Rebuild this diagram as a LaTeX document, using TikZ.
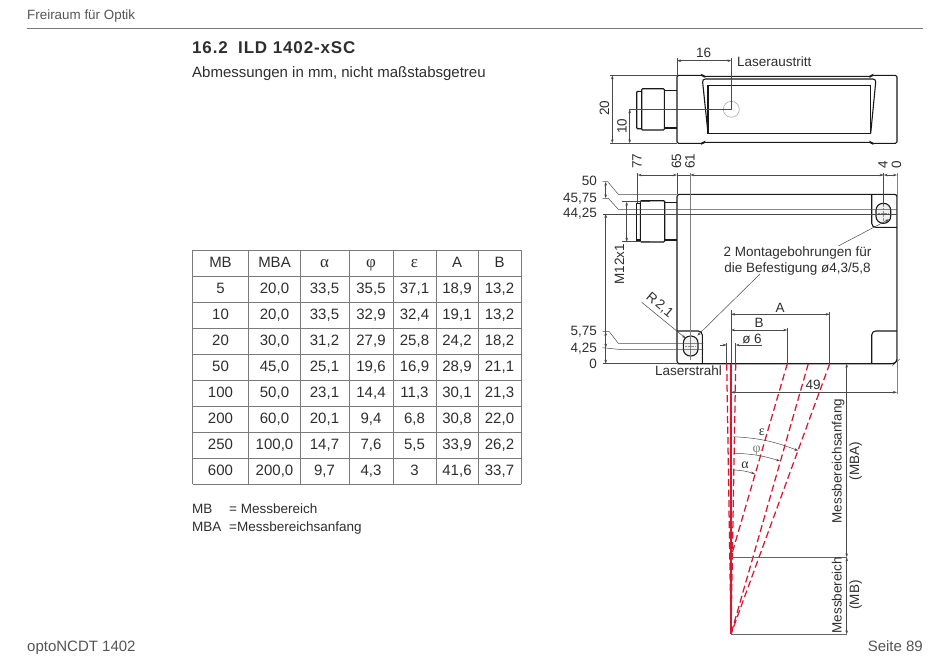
\documentclass[tikz,border=0pt]{standalone}
\usepackage{fontspec}
\setmainfont{Liberation Sans}
\newfontfamily\greekfont{Liberation Serif}
\newfontfamily\headfont[LetterSpace=5]{Liberation Sans}
\usetikzlibrary{arrows.meta}
\definecolor{xtext}{HTML}{2E2E2E}
\definecolor{xline}{HTML}{4A4A4A}
\definecolor{xgrid}{HTML}{7A7A7A}
\definecolor{xred}{HTML}{D8162F}
\newcommand{\greekhead}[1]{\fontsize{17}{17}\selectfont\greekfont #1}
\tikzset{
  label/.style = {inner sep=0pt, text=xtext, text height=11pt, text depth=2pt, font=\fontsize{13.5}{15}\selectfont},
  cell/.style = {label, font=\fontsize{15}{17}\selectfont},
  pagetext/.style = {label, text=xgrid!70!black, font=\fontsize{15}{17}\selectfont},
  heading/.style = {label, anchor=west, font=\fontsize{17}{19}\selectfont\headfont\bfseries},
  outline/.style = {draw=black!90, line width=1.1pt},
  thinline/.style = {draw=xline, line width=0.5pt},
  dim/.style = {thinline, {Stealth[length=4pt,width=2.6pt]}-{Stealth[length=4pt,width=2.6pt]}},
  toarrow/.style = {thinline, -{Stealth[length=4pt,width=2.6pt]}},
  beam/.style = {draw=xred, line width=1.25pt, dash pattern=on 7pt off 3.5pt},
}
\newcommand{\tablerow}[8]{
  \node[cell] (mb#1)  at (220.5,#1) {#2};
  \node[cell] (mba#1) at (274.5,#1) {#3};
  \node[cell] (al#1)  at (324.5,#1) {#4};
  \node[cell] (ph#1)  at (371,#1)   {#5};
  \node[cell] (ep#1)  at (414.5,#1) {#6};
  \node[cell] (a#1)   at (457,#1)   {#7};
  \node[cell] (b#1)   at (499.5,#1) {#8};
}
\begin{document}
\begin{tikzpicture}[x=1pt, y=-1pt]
  \useasboundingbox (0,0) rectangle (950,657);
  % page frame
  \draw[xgrid, line width=0.6pt] (27,28) -- (923,28);
  \node[pagetext, anchor=west, font=\fontsize{13.4}{15}\selectfont] (header) at (27,15) {Freiraum für Optik};
  \node[pagetext, anchor=west] (footer) at (27,647) {optoNCDT 1402};
  \node[pagetext, anchor=east] (page) at (923,647) {Seite 89};
  \node[heading] (secnum) at (192,49) {16.2};
  \node[heading] (sectitle) at (238,49) {ILD 1402-xSC};
  \node[cell, anchor=west] (subtitle) at (192,73) {Abmessungen in mm, nicht maßstabsgetreu};
  % table
  \foreach \ty in {250,276,...,484} \draw[xgrid, line width=0.8pt] (192.5,\ty) -- (521,\ty);
  \foreach \tx in {192.5,248.5,300,349,393,436,478,521} \draw[xgrid, line width=0.8pt] (\tx,250) -- (\tx,484);
  \tablerow{263}{MB}{MBA}{\greekhead{α}}{\greekhead{φ}}{\greekhead{ε}}{A}{B}
  \tablerow{289}{5}{20,0}{33,5}{35,5}{37,1}{18,9}{13,2}
  \tablerow{315}{10}{20,0}{33,5}{32,9}{32,4}{19,1}{13,2}
  \tablerow{341}{20}{30,0}{31,2}{27,9}{25,8}{24,2}{18,2}
  \tablerow{367}{50}{45,0}{25,1}{19,6}{16,9}{28,9}{21,1}
  \tablerow{393}{100}{50,0}{23,1}{14,4}{11,3}{30,1}{21,3}
  \tablerow{419}{200}{60,0}{20,1}{9,4}{6,8}{30,8}{22,0}
  \tablerow{445}{250}{100,0}{14,7}{7,6}{5,5}{33,9}{26,2}
  \tablerow{471}{600}{200,0}{9,7}{4,3}{3}{41,6}{33,7}
  \node[label, anchor=west] (mbkey) at (192,509) {MB};
  \node[label, anchor=west] (mbval) at (229,509) {= Messbereich};
  \node[label, anchor=west] (mbakey) at (192,527) {MBA};
  \node[label, anchor=west] (mbaval) at (229,527) {=Messbereichsanfang};
  % top view
  \draw[outline, rounded corners=1.5pt] (677,75.3) -- (702.7,75.3) -- (703.5,76.3) -- (871,76.3) -- (871.7,75.3) -- (897,75.3) -- (897,143.3) -- (871.7,143.3) -- (871,142.3) -- (703.5,142.3) -- (702.7,143.3) -- (677,143.3) -- cycle;
  \draw[outline, rounded corners=3pt] (708,133.3) -- (702.3,79) -- (876,79) -- (870.7,133.3);
  \draw[outline] (708,85.7) rectangle (870.3,133.3);
  \draw[outline] (676.7,90.3) -- (664.3,90.3) -- (664.3,128) -- (676.7,128);
  \draw[outline, rounded corners=1pt] (664.3,88.7) -- (641.7,88.7) -- (641.7,130) -- (664.3,130) -- cycle;
  \draw[outline, rounded corners=1pt] (641.7,91.3) -- (636.7,91.3) -- (636.7,128.7) -- (641.7,128.7);
  \draw[black!30, line width=0.7pt] (731.3,109.3) circle (8);
  \draw[thinline] (731.3,58) -- (731.3,109.3) -- (629,109.3);
  \draw[thinline] (677,58) -- (677,75.3) -- (610,75.3);
  \draw[thinline] (677,143.3) -- (610,143.3);
  \draw[dim] (677,60.7) -- (731.3,60.7);
  \draw[dim] (612.3,75.3) -- (612.3,143.3);
  \draw[dim] (629.7,109.3) -- (629.7,143.3);
  \node[label] (w16) at (703.5,52.5) {16};
  \node[label, anchor=west] (laseraus) at (737,62) {Laseraustritt};
  \node[label, rotate=90] (h20) at (604.5,108) {20};
  \node[label, rotate=90] (h10) at (622,126) {10};
  % side view
  \draw[outline, rounded corners=2.5pt] (677,363.7) -- (677,194.3) -- (897,194.3) -- (897,361) -- (894,363.7) -- (680,363.7) -- cycle;
  \draw[outline, rounded corners=4pt] (871.7,194.3) -- (871.7,227.3) -- (897,227.3);
  \draw[outline, rounded corners=4pt] (702.3,363.7) -- (702.3,331) -- (677,331);
  \draw[outline, rounded corners=4pt] (871.7,363.7) -- (871.7,331) -- (897,331);
  \draw[outline] (676.7,202.3) -- (664.7,202.3) -- (664.7,240) -- (676.7,240);
  \draw[outline, rounded corners=1pt] (664.7,200.7) -- (640.3,200.7) -- (640.3,242) -- (664.7,242) -- cycle;
  \draw[outline] (640.3,203.3) rectangle (636.7,240);
  % mounting holes
  \draw[outline, rounded corners=7pt, fill=black!6] (876,203.3) rectangle (890.7,223.3);
  \draw[outline, rounded corners=7pt, fill=black!6] (683.3,336) rectangle (698,356);
  \draw[black!45, line width=0.4pt, densely dotted] (883.5,205) -- (883.5,222) (878,213.3) -- (889,213.3);
  \draw[black!45, line width=0.4pt, densely dotted] (690.6,338) -- (690.6,355) (685,346) -- (696,346);
  % extension lines
  \draw[thinline] (637.7,173) -- (637.7,203);
  \draw[thinline] (677,173) -- (677,194.3);
  \draw[thinline, black!50] (690.3,173) -- (690.3,360);
  \draw[thinline] (883.7,173) -- (883.7,205);
  \draw[thinline, black!50] (897,173) -- (897,394);
  \draw[dim] (637.7,175) -- (677,175);
  \draw[thinline] (677,175) -- (690.3,175);
  \draw[dim] (690.3,175) -- (883.7,175);
  \draw[dim] (883.7,175) -- (897,175);
  \foreach \txt/\tx/\tname in {77/637/a,65/676.5/b,61/690/c,4/883/d,0/896.5/e}
    \node[label, rotate=90, anchor=west] (top\tname) at (\tx,169) {\txt};
  % height scale on the left
  \draw[thinline] (602.7,181.7) -- (607.7,181.7) -- (618.3,194.3) -- (677,194.3);
  \draw[thinline] (602.7,198.3) -- (608.3,198.3) -- (618.3,209.3) -- (897,209.3);
  \draw[thinline] (602.7,214) -- (897,214);
  \draw[thinline] (602.7,331.7) -- (609.3,331.7) -- (618.3,343.3) -- (703.3,343.3);
  \draw[thinline] (602.7,347.7) -- (618.3,349.3) -- (703.3,349.3);
  \draw[thinline] (602.7,363.7) -- (677,363.7);
  \draw[dim] (605.7,181.7) -- (605.7,198.3);
  \draw[dim] (605.7,214) -- (605.7,363.7);
  \draw[dim] (605.7,331.7) -- (605.7,347.7);
  \foreach \txt/\ty/\tname in {50/181/a,{45,75}/198/b,{44,25}/213/c,{5,75}/331/d,{4,25}/348/e,0/364/f}
    \node[label, anchor=east] (left\tname) at (597,\ty) {\txt};
  \draw[thinline] (622,201.7) -- (650,201.7);
  \draw[thinline] (622,241.7) -- (650,241.7);
  \draw[dim] (626.7,201.7) -- (626.7,241.7);
  \node[label, rotate=90] (thread) at (619.5,264) {M12x1};
  % leaders
  \node[label] (mount1) at (797.5,251.7) {2 Montagebohrungen für};
  \node[label] (mount2) at (797.5,268) {die Befestigung ø4,3/5,8};
  \draw[toarrow] (838.3,246) -- (889,219.3);
  \draw[toarrow] (760,274) -- (697.3,335.7);
  \draw[toarrow] (641.7,302.3) -- (685.7,338.3);
  \node[label, rotate=-40] (radius) at (660,304.5) {R\,2,1};
  % widths
  \draw[thinline] (731,310) -- (731,363.7);
  \draw[thinline] (787.3,328) -- (787.3,363.7);
  \draw[thinline] (829.7,312) -- (829.7,363.7);
  \draw[thinline] (726.7,343) -- (726.7,363.7);
  \draw[thinline] (735.7,343) -- (735.7,363.7);
  \draw[dim] (731,314.3) -- (829.7,314.3);
  \draw[dim] (731,330) -- (787.3,330);
  \draw[toarrow] (720,345) -- (726.7,345);
  \draw[toarrow] (761.7,345) -- (735.7,345);
  \node[label] (widtha) at (780,307.5) {A};
  \node[label] (widthb) at (759,323) {B};
  \node[label] (widthd) at (752,338.5) {ø 6};
  \node[label, anchor=east] (laserstrahl) at (722,370.5) {Laserstrahl};
  % beams
  \draw[beam] (787.3,363.7) -- (731,557);
  \draw[beam] (808.3,363.7) -- (731,634);
  \draw[beam] (829.7,363.7) -- (731,634);
  \draw[beam] (726.7,363.7) -- (731,634);
  \draw[beam] (735.7,363.7) -- (731,634);
  \draw[xred, line width=1.3pt] (731,363.7) -- (731,634);
  % range dimensions
  \draw[thinline, black!60, line width=0.8pt] (731,557.3) -- (847,557.3);
  \draw[thinline, black!60, line width=0.8pt] (731,634.3) -- (847,634.3);
  \draw[dim] (731,392.3) -- (897,392.3);
  \draw[dim] (846.7,363.7) -- (846.7,557.3);
  \draw[dim] (846.7,557.3) -- (846.7,634.3);
  \node[label] (d49) at (813,385) {49};
  \node[label, rotate=90] (mba1) at (837,461) {Messbereichsanfang};
  \node[label, rotate=90] (mba2) at (854.5,461) {(MBA)};
  \node[label, rotate=90] (mbr1) at (837,595) {Messbereich};
  \node[label, rotate=90] (mbr2) at (854.5,595) {(MB)};
  % angles
  \draw[toarrow] (733.3,436.7) to[bend left=9] (798.3,450.7);
  \draw[toarrow] (733.3,453.3) to[bend left=8] (780,461);
  \draw[toarrow] (733.3,470) to[bend left=8] (755,474);
  \node[label, font=\fontsize{14}{16}\selectfont\greekfont] (angep) at (761.7,431) {ε};
  \node[label, font=\fontsize{14}{16}\selectfont\greekfont, text=black!50] (angph) at (756.7,447.5) {φ};
  \node[label, font=\fontsize{14}{16}\selectfont\greekfont] (angal) at (745,463.5) {α};
\end{tikzpicture}
\end{document}
